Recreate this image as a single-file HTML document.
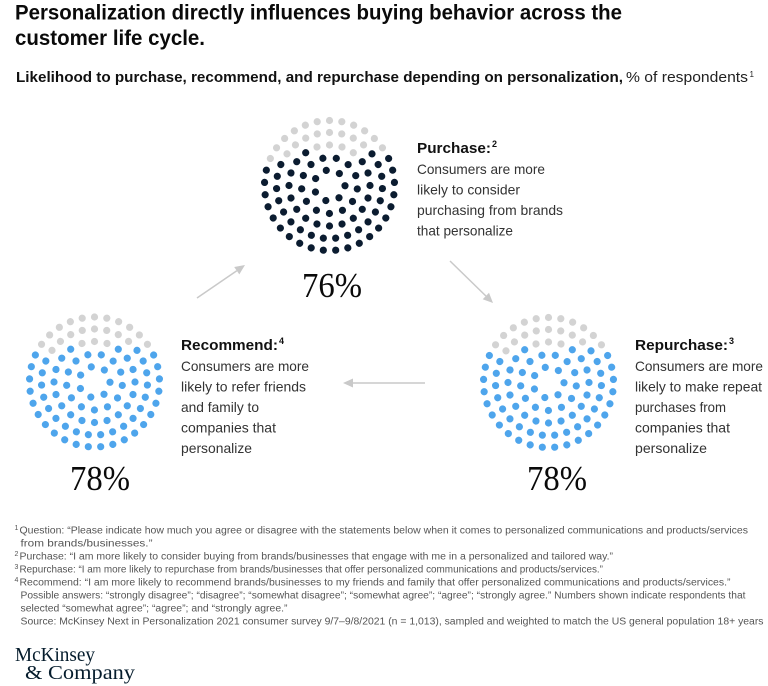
<!DOCTYPE html>
<html>
<head>
<meta charset="utf-8">
<style>
html,body{margin:0;padding:0;background:#fff;}
svg{display:block;}
text{font-family:"Liberation Sans",sans-serif;}
.t{font-weight:bold;font-size:21px;fill:#0a0a0a;}
.h{font-weight:bold;font-size:15px;fill:#111;}
.d{font-size:14px;fill:#333;}
.sup{font-weight:bold;font-size:9px;fill:#111;}
.f{font-size:10px;fill:#555;}
.fs{font-size:7px;fill:#555;}
.p{font-family:"Liberation Serif",serif;font-size:35px;fill:#0a0a0a;}
.logo{font-family:"Liberation Serif",serif;font-size:19.5px;fill:#051c2c;}
</style>
</head>
<body>
<svg width="768" height="686" viewBox="0 0 768 686" xmlns="http://www.w3.org/2000/svg">
<defs>
  <circle id="a" cx="0" cy="-15.5" r="3.6"/>
  <circle id="b" cx="0" cy="-28" r="3.6"/>
  <circle id="c" cx="0" cy="-40.5" r="3.6"/>
  <circle id="d" cx="0" cy="-53" r="3.6"/>
  <circle id="e" cx="0" cy="-65" r="3.6"/>
  <g id="core">
    <use href="#a" transform="rotate(-12)"/>
    <use href="#a" transform="rotate(39.43)"/>
    <use href="#a" transform="rotate(90.86)"/>
    <use href="#a" transform="rotate(142.29)"/>
    <use href="#a" transform="rotate(193.71)"/>
    <use href="#a" transform="rotate(245.14)"/>
    <use href="#a" transform="rotate(296.57)"/>

    <use href="#b" transform="rotate(14)"/>
    <use href="#b" transform="rotate(41.69)"/>
    <use href="#b" transform="rotate(69.38)"/>
    <use href="#b" transform="rotate(97.08)"/>
    <use href="#b" transform="rotate(124.77)"/>
    <use href="#b" transform="rotate(152.46)"/>
    <use href="#b" transform="rotate(180.15)"/>
    <use href="#b" transform="rotate(207.85)"/>
    <use href="#b" transform="rotate(235.54)"/>
    <use href="#b" transform="rotate(263.23)"/>
    <use href="#b" transform="rotate(290.92)"/>
    <use href="#b" transform="rotate(318.62)"/>
    <use href="#b" transform="rotate(346.31)"/>

    <use href="#c" transform="rotate(54)"/>
    <use href="#c" transform="rotate(72)"/>
    <use href="#c" transform="rotate(90)"/>
    <use href="#c" transform="rotate(108)"/>
    <use href="#c" transform="rotate(126)"/>
    <use href="#c" transform="rotate(144)"/>
    <use href="#c" transform="rotate(162)"/>
    <use href="#c" transform="rotate(180)"/>
    <use href="#c" transform="rotate(198)"/>
    <use href="#c" transform="rotate(216)"/>
    <use href="#c" transform="rotate(234)"/>
    <use href="#c" transform="rotate(252)"/>
    <use href="#c" transform="rotate(270)"/>
    <use href="#c" transform="rotate(288)"/>
    <use href="#c" transform="rotate(306)"/>
    <use href="#c" transform="rotate(324)"/>

    <use href="#d" transform="rotate(53.33)"/>
    <use href="#d" transform="rotate(66.67)"/>
    <use href="#d" transform="rotate(80)"/>
    <use href="#d" transform="rotate(93.33)"/>
    <use href="#d" transform="rotate(106.67)"/>
    <use href="#d" transform="rotate(120)"/>
    <use href="#d" transform="rotate(133.33)"/>
    <use href="#d" transform="rotate(146.67)"/>
    <use href="#d" transform="rotate(160)"/>
    <use href="#d" transform="rotate(173.33)"/>
    <use href="#d" transform="rotate(186.67)"/>
    <use href="#d" transform="rotate(200)"/>
    <use href="#d" transform="rotate(213.33)"/>
    <use href="#d" transform="rotate(226.67)"/>
    <use href="#d" transform="rotate(240)"/>
    <use href="#d" transform="rotate(253.33)"/>
    <use href="#d" transform="rotate(266.67)"/>
    <use href="#d" transform="rotate(280)"/>
    <use href="#d" transform="rotate(293.33)"/>

    <use href="#e" transform="rotate(65.45)"/>
    <use href="#e" transform="rotate(76.36)"/>
    <use href="#e" transform="rotate(87.27)"/>
    <use href="#e" transform="rotate(98.18)"/>
    <use href="#e" transform="rotate(109.09)"/>
    <use href="#e" transform="rotate(120)"/>
    <use href="#e" transform="rotate(130.91)"/>
    <use href="#e" transform="rotate(141.82)"/>
    <use href="#e" transform="rotate(152.73)"/>
    <use href="#e" transform="rotate(163.64)"/>
    <use href="#e" transform="rotate(174.55)"/>
    <use href="#e" transform="rotate(185.45)"/>
    <use href="#e" transform="rotate(196.36)"/>
    <use href="#e" transform="rotate(207.27)"/>
    <use href="#e" transform="rotate(218.18)"/>
    <use href="#e" transform="rotate(229.09)"/>
    <use href="#e" transform="rotate(240)"/>
    <use href="#e" transform="rotate(250.91)"/>
    <use href="#e" transform="rotate(261.82)"/>
    <use href="#e" transform="rotate(272.73)"/>
    <use href="#e" transform="rotate(283.64)"/>
  </g>
  <g id="gcore" fill="#d3d3d3">
    <use href="#c" transform="rotate(342)"/>
    <use href="#c" transform="rotate(0)"/>
    <use href="#c" transform="rotate(18)"/>

    <use href="#d" transform="rotate(306.67)"/>
    <use href="#d" transform="rotate(320)"/>
    <use href="#d" transform="rotate(333.33)"/>
    <use href="#d" transform="rotate(346.67)"/>
    <use href="#d" transform="rotate(0)"/>
    <use href="#d" transform="rotate(13.33)"/>
    <use href="#d" transform="rotate(26.67)"/>
    <use href="#d" transform="rotate(40)"/>

    <use href="#e" transform="rotate(305.45)"/>
    <use href="#e" transform="rotate(316.36)"/>
    <use href="#e" transform="rotate(327.27)"/>
    <use href="#e" transform="rotate(338.18)"/>
    <use href="#e" transform="rotate(349.09)"/>
    <use href="#e" transform="rotate(0)"/>
    <use href="#e" transform="rotate(10.91)"/>
    <use href="#e" transform="rotate(21.82)"/>
    <use href="#e" transform="rotate(32.73)"/>
    <use href="#e" transform="rotate(43.64)"/>
    <use href="#e" transform="rotate(54.55)"/>
  </g>
</defs>

<!-- Title -->
<text class="t" x="15" y="19.5" textLength="607" lengthAdjust="spacingAndGlyphs">Personalization directly influences buying behavior across the</text>
<text class="t" x="15" y="45" textLength="190" lengthAdjust="spacingAndGlyphs">customer life cycle.</text>

<!-- Subtitle -->
<text x="16" y="82" style="font-size:15px;font-weight:bold;fill:#111" textLength="607" lengthAdjust="spacingAndGlyphs">Likelihood to purchase, recommend, and repurchase depending on personalization,</text>
<text x="626" y="82" style="font-size:15px;fill:#222" textLength="122" lengthAdjust="spacingAndGlyphs">% of respondents</text>
<text x="749.5" y="77" style="font-size:8px;fill:#222">1</text>

<!-- Dot charts -->
<g transform="translate(329.5,185.5)">
  <use href="#core" fill="#0b1c30"/>
  <use href="#gcore"/>
  <use href="#c" transform="rotate(36)" fill="#d3d3d3"/>
  <use href="#e" transform="rotate(294.55)" fill="#d3d3d3"/>
</g>
<g transform="translate(94.5,382)">
  <use href="#core" fill="#4ea5ec"/>
  <use href="#gcore"/>
  <use href="#c" transform="rotate(36)" fill="#4ea5ec"/>
  <use href="#e" transform="rotate(294.55)" fill="#4ea5ec"/>
</g>
<g transform="translate(548.5,382.5)">
  <use href="#core" fill="#4ea5ec"/>
  <use href="#gcore"/>
  <use href="#c" transform="rotate(36)" fill="#4ea5ec"/>
  <use href="#e" transform="rotate(294.55)" fill="#4ea5ec"/>
</g>

<!-- Percent labels -->
<text class="p" x="302" y="297" textLength="60" lengthAdjust="spacingAndGlyphs">76%</text>
<text class="p" x="70" y="490" textLength="60" lengthAdjust="spacingAndGlyphs">78%</text>
<text class="p" x="527" y="490" textLength="60" lengthAdjust="spacingAndGlyphs">78%</text>

<!-- Arrows -->
<g stroke="#c9c9c9" stroke-width="1.5" fill="none">
  <line x1="197" y1="298" x2="236.8" y2="270.7"/>
  <line x1="450" y1="261" x2="485.9" y2="296"/>
  <line x1="425" y1="383" x2="353" y2="383"/>
</g>
<g fill="#c9c9c9">
  <polygon points="245,265 239.3,274.4 234.2,267"/>
  <polygon points="493,303 482.7,299.2 489,292.8"/>
  <polygon points="343,383 353,378.5 353,387.5"/>
</g>

<!-- Purchase block -->
<text class="h" x="417" y="153" textLength="74" lengthAdjust="spacingAndGlyphs">Purchase:</text>
<text class="sup" x="492" y="147">2</text>
<text class="d" x="417" y="174" textLength="128" lengthAdjust="spacingAndGlyphs">Consumers are more</text>
<text class="d" x="417" y="194.5" textLength="103" lengthAdjust="spacingAndGlyphs">likely to consider</text>
<text class="d" x="417" y="215" textLength="146" lengthAdjust="spacingAndGlyphs">purchasing from brands</text>
<text class="d" x="417" y="235.5" textLength="96" lengthAdjust="spacingAndGlyphs">that personalize</text>

<!-- Recommend block -->
<text class="h" x="181" y="350" textLength="97" lengthAdjust="spacingAndGlyphs">Recommend:</text>
<text class="sup" x="279" y="344">4</text>
<text class="d" x="181" y="371" textLength="128" lengthAdjust="spacingAndGlyphs">Consumers are more</text>
<text class="d" x="181" y="391.5" textLength="125" lengthAdjust="spacingAndGlyphs">likely to refer friends</text>
<text class="d" x="181" y="412" textLength="78" lengthAdjust="spacingAndGlyphs">and family to</text>
<text class="d" x="181" y="432.5" textLength="95" lengthAdjust="spacingAndGlyphs">companies that</text>
<text class="d" x="181" y="453" textLength="71" lengthAdjust="spacingAndGlyphs">personalize</text>

<!-- Repurchase block -->
<text class="h" x="635" y="350" textLength="93" lengthAdjust="spacingAndGlyphs">Repurchase:</text>
<text class="sup" x="729" y="344">3</text>
<text class="d" x="635" y="371" textLength="128" lengthAdjust="spacingAndGlyphs">Consumers are more</text>
<text class="d" x="635" y="391.5" textLength="127" lengthAdjust="spacingAndGlyphs">likely to make repeat</text>
<text class="d" x="635" y="412" textLength="91" lengthAdjust="spacingAndGlyphs">purchases from</text>
<text class="d" x="635" y="432.5" textLength="95" lengthAdjust="spacingAndGlyphs">companies that</text>
<text class="d" x="635" y="453" textLength="72" lengthAdjust="spacingAndGlyphs">personalize</text>

<!-- Footnotes -->
<text class="fs" x="14.5" y="530">1</text>
<text class="f" x="19.5" y="533.5" textLength="728.5" lengthAdjust="spacingAndGlyphs">Question: “Please indicate how much you agree or disagree with the statements below when it comes to personalized communications and products/services</text>
<text class="f" x="20.5" y="546.5" textLength="132" lengthAdjust="spacingAndGlyphs">from brands/businesses.”</text>
<text class="fs" x="14.5" y="556">2</text>
<text class="f" x="19.5" y="559.5" textLength="593.5" lengthAdjust="spacingAndGlyphs">Purchase: “I am more likely to consider buying from brands/businesses that engage with me in a personalized and tailored way.”</text>
<text class="fs" x="14.5" y="569">3</text>
<text class="f" x="19.5" y="572.5" textLength="583.5" lengthAdjust="spacingAndGlyphs">Repurchase: “I am more likely to repurchase from brands/businesses that offer personalized communications and products/services.”</text>
<text class="fs" x="14.5" y="582">4</text>
<text class="f" x="19.5" y="585.5" textLength="711" lengthAdjust="spacingAndGlyphs">Recommend: “I am more likely to recommend brands/businesses to my friends and family that offer personalized communications and products/services.”</text>
<text class="f" x="20.5" y="598.5" textLength="725" lengthAdjust="spacingAndGlyphs">Possible answers: “strongly disagree”; “disagree”; “somewhat disagree”; “somewhat agree”; “agree”; “strongly agree.” Numbers shown indicate respondents that</text>
<text class="f" x="20.5" y="611.5" textLength="267" lengthAdjust="spacingAndGlyphs">selected “somewhat agree”; “agree”; and “strongly agree.”</text>
<text class="f" x="20.5" y="624.5" textLength="743" lengthAdjust="spacingAndGlyphs">Source: McKinsey Next in Personalization 2021 consumer survey 9/7–9/8/2021 (n = 1,013), sampled and weighted to match the US general population 18+ years</text>

<!-- Logo -->
<text class="logo" x="15" y="661" textLength="80" lengthAdjust="spacingAndGlyphs">McKinsey</text>
<text class="logo" x="25" y="679" textLength="110" lengthAdjust="spacingAndGlyphs">&amp; Company</text>
</svg>
</body>
</html>
